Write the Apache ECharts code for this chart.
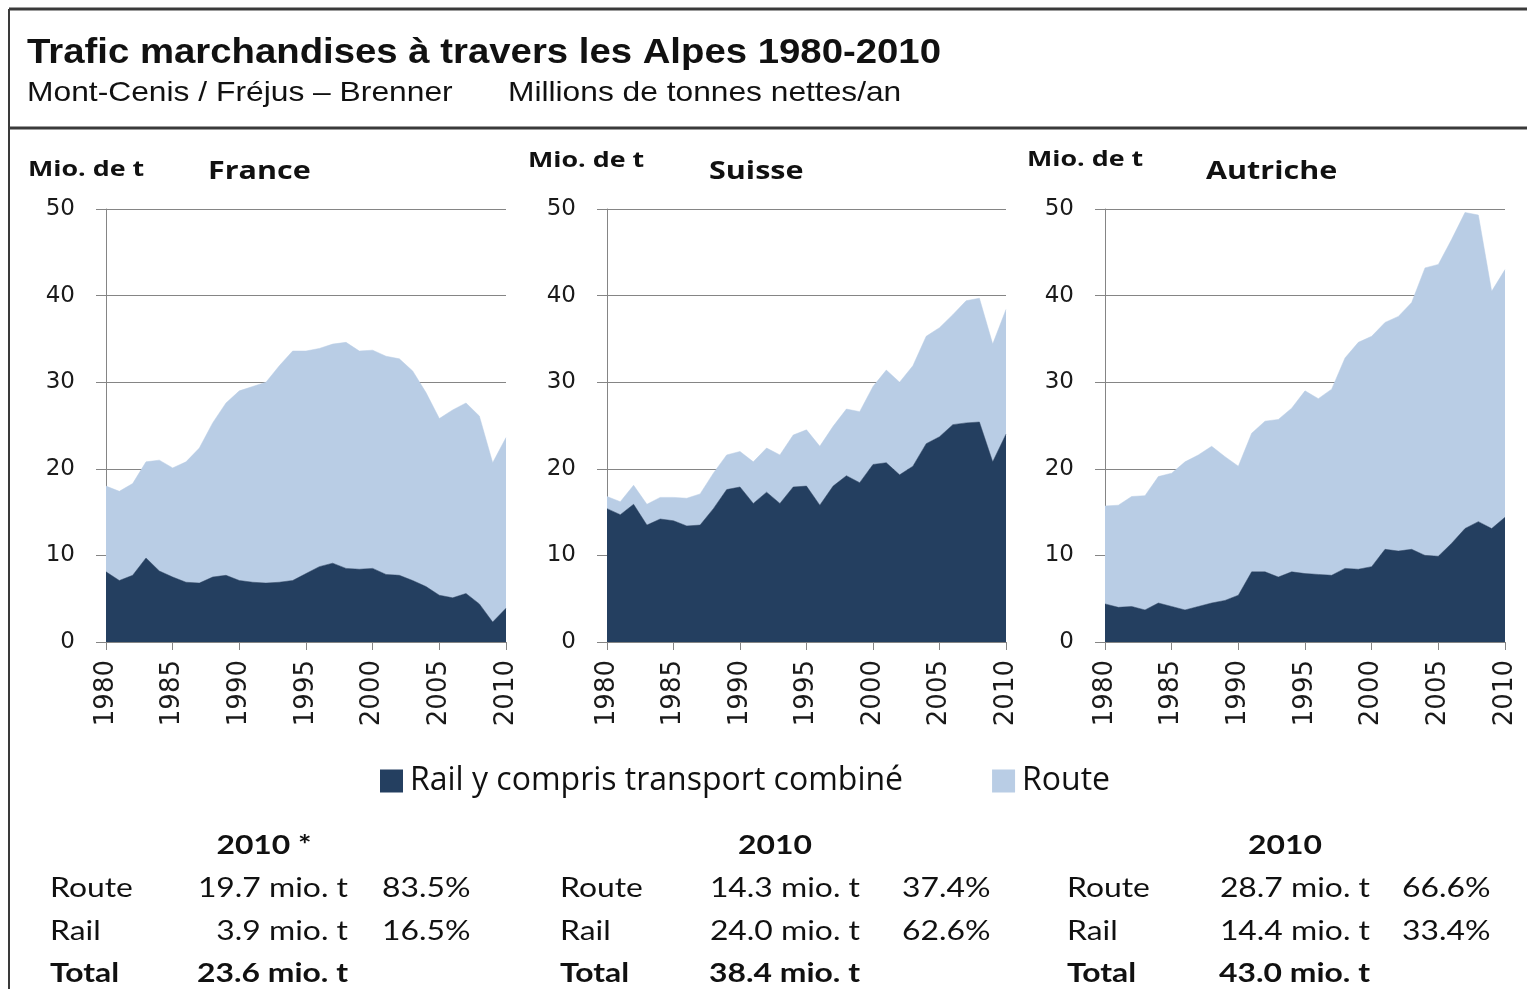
<!DOCTYPE html>
<html>
<head>
<meta charset="utf-8">
<script src="https://cdn.jsdelivr.net/npm/echarts@6/dist/echarts.min.js"></script>
<style>
html,body{margin:0;padding:0;background:#fff;}
#c{width:1527px;height:989px;}
</style>
</head>
<body>
<div id="c"></div>
<script>
// ---------- DATA ----------
const years = ['1980','1981','1982','1983','1984','1985','1986','1987','1988','1989','1990',
  '1991','1992','1993','1994','1995','1996','1997','1998','1999','2000',
  '2001','2002','2003','2004','2005','2006','2007','2008','2009','2010'];

const seriesNames = ['Rail y compris transport combiné', 'Route'];
const panelNames = ['France', 'Suisse', 'Autriche'];
const unitLabel = 'Mio. de t';

const franceRail = [8.1,7.1,7.7,9.7,8.2,7.5,6.9,6.8,7.5,7.7,7.1,6.9,6.8,6.9,7.1,7.9,8.7,9.1,8.5,8.4,8.5,7.8,7.7,7.1,6.4,5.4,5.1,5.6,4.4,2.3,3.9];
const franceRoute = [9.9,10.3,10.6,11.1,12.8,12.6,13.9,15.6,17.8,19.9,21.9,22.6,23.2,25.0,26.5,25.7,25.2,25.3,26.1,25.2,25.2,25.2,25.0,24.2,22.4,20.4,21.7,22.0,21.7,18.4,19.7];

const suisseRail = [15.4,14.7,15.9,13.5,14.2,14.0,13.4,13.5,15.4,17.6,17.9,16.0,17.3,16.0,17.9,18.0,15.8,18.0,19.2,18.4,20.5,20.7,19.3,20.3,22.9,23.7,25.1,25.3,25.4,20.8,24.0];
const suisseRoute = [1.4,1.5,2.2,2.4,2.5,2.7,3.2,3.6,4.1,4.0,4.1,4.8,5.1,5.6,6.0,6.5,6.8,6.9,7.7,8.2,9.0,10.7,10.7,11.6,12.4,12.6,12.7,14.1,14.3,13.6,14.4];

const autricheRail = [4.4,4.0,4.1,3.7,4.5,4.1,3.7,4.1,4.5,4.8,5.4,8.1,8.1,7.5,8.1,7.9,7.8,7.7,8.5,8.4,8.7,10.7,10.5,10.7,10.0,9.9,11.4,13.1,13.9,13.1,14.4];
const autricheRoute = [11.3,11.8,12.7,13.2,14.6,15.4,17.1,17.5,18.1,16.6,14.9,16.0,17.4,18.2,18.9,21.1,20.3,21.5,24.3,26.2,26.6,26.2,27.1,28.5,33.2,33.7,35.1,36.5,35.4,27.4,28.6];

const titleText = 'Trafic marchandises à travers les Alpes 1980-2010';
const subtitleLeft = 'Mont-Cenis / Fréjus – Brenner';
const subtitleRight = 'Millions de tonnes nettes/an';

const tableHeaders = ['2010 *', '2010', '2010'];
const tableRowLabels = ['Route', 'Rail', 'Total'];
const franceTable = ['19.7 mio. t', '3.9 mio. t', '23.6 mio. t'];
const franceShares = ['83.5%', '16.5%'];
const suisseTable = ['14.3 mio. t', '24.0 mio. t', '38.4 mio. t'];
const suisseShares = ['37.4%', '62.6%'];
const autricheTable = ['28.7 mio. t', '14.4 mio. t', '43.0 mio. t'];
const autricheShares = ['66.6%', '33.4%'];

// ---------- LAYOUT ----------
const DARK = '#243f60';
const LIGHT = '#b9cde5';
const GRID_COLOR = '#858585';
const TXT = '#1a1a1a';
const CAL = 'Lato, "Open Sans", sans-serif';
const OPEN = '"Open Sans", Lato, sans-serif';
const ARIAL = '"Liberation Sans", Arial, sans-serif';
const VERD = '"DejaVu Sans", Verdana, sans-serif';

const panels = [
  {rail: franceRail, route: franceRoute, left: 106, width: 400, unitX: 28, unitY: 170, nameX: 208,
   table: franceTable, shares: franceShares, header: tableHeaders[0], hx: 264, lx: 50, vx: 348, px: 382},
  {rail: suisseRail, route: suisseRoute, left: 607, width: 399, unitX: 528, unitY: 161, nameX: 709,
   table: suisseTable, shares: suisseShares, header: tableHeaders[1], hx: 775, lx: 560, vx: 860, px: 902},
  {rail: autricheRail, route: autricheRoute, left: 1105, width: 400, unitX: 1027, unitY: 160, nameX: 1206,
   table: autricheTable, shares: autricheShares, header: tableHeaders[2], hx: 1285, lx: 1067, vx: 1370, px: 1402}
];

function txt(text, x, y, font, sx, align) {
  return {type: 'text', x: x, y: y, scaleX: sx, scaleY: 1,
    style: {text: text, x: 0, y: 0, font: font, fill: '#111', align: align || 'left', verticalAlign: 'middle'}};
}

const grids = [], xAxes = [], yAxes = [], series = [];
const graphics = [
  {type: 'line', shape: {x1: 9, y1: 9, x2: 1527, y2: 9}, style: {stroke: '#3a3a3a', lineWidth: 3}},
  {type: 'line', shape: {x1: 9, y1: 128, x2: 1527, y2: 128}, style: {stroke: '#3a3a3a', lineWidth: 3}},
  {type: 'line', shape: {x1: 9, y1: 9, x2: 9, y2: 989}, style: {stroke: '#3a3a3a', lineWidth: 2}},
  txt(titleText, 27, 53, 'bold 35px ' + ARIAL, 1.095),
  txt(subtitleLeft, 27, 93, '28px ' + ARIAL, 1.135),
  txt(subtitleRight, 508, 93, '28px ' + ARIAL, 1.133)
];

panels.forEach((p, i) => {
  grids.push({left: p.left, top: 209, width: p.width, height: 433, containLabel: false});
  xAxes.push({
    type: 'category', gridIndex: i, data: years, boundaryGap: false,
    axisLine: {show: true, lineStyle: {color: GRID_COLOR, width: 1}},
    axisTick: {show: true, interval: 4, length: 8, lineStyle: {color: GRID_COLOR}},
    axisLabel: {interval: 4, rotate: 90, margin: 18, fontSize: 26, fontFamily: VERD, color: TXT},
    splitLine: {show: false}
  });
  yAxes.push({
    type: 'value', gridIndex: i, min: 0, max: 50, interval: 10,
    axisLine: {show: true, lineStyle: {color: GRID_COLOR, width: 1}},
    axisTick: {show: true, length: 10, lineStyle: {color: GRID_COLOR}},
    axisLabel: {margin: 31, fontSize: 23, fontFamily: VERD, color: TXT},
    splitLine: {show: true, lineStyle: {color: GRID_COLOR, width: 1}}
  });
  series.push({
    name: seriesNames[0], type: 'line', xAxisIndex: i, yAxisIndex: i, stack: 'p' + i,
    data: p.rail, symbol: 'none', lineStyle: {width: 0.5, color: DARK}, itemStyle: {color: DARK},
    areaStyle: {color: DARK, opacity: 1}, z: 3, silent: true
  });
  series.push({
    name: seriesNames[1], type: 'line', xAxisIndex: i, yAxisIndex: i, stack: 'p' + i,
    data: p.route, symbol: 'none', lineStyle: {width: 0.5, color: LIGHT}, itemStyle: {color: LIGHT},
    areaStyle: {color: LIGHT, opacity: 1}, z: 2, silent: true
  });

  graphics.push(txt(unitLabel, p.unitX, p.unitY, 'bold 22px ' + OPEN, 1.22));
  graphics.push(txt(panelNames[i], p.nameX, 172, 'bold 25px ' + OPEN, 1.22));

  // table
  graphics.push(txt(p.header, p.hx, 845, 'bold 27px ' + CAL, 1.18, 'center'));
  const rowsY = [888, 931, 973];
  tableRowLabels.forEach((lab, r) => {
    const bold = r === 2 ? 'bold ' : '';
    graphics.push(txt(lab, p.lx, rowsY[r], bold + '27px ' + CAL, 1.18));
    graphics.push(txt(p.table[r], p.vx, rowsY[r], bold + '27px ' + CAL, 1.18, 'right'));
    if (r < 2) {
      graphics.push(txt(p.shares[r], p.px, rowsY[r], '27px ' + CAL, 1.18));
    }
  });
});

const chart = echarts.init(document.getElementById('c'), null, {renderer: 'canvas'});
chart.setOption({
  backgroundColor: '#ffffff',
  animation: false,
  grid: grids,
  xAxis: xAxes,
  yAxis: yAxes,
  series: series,
  legend: {
    data: seriesNames, left: 375, top: 760, itemWidth: 23, itemHeight: 23, itemGap: 89,
    icon: 'rect', selectedMode: false,
    textStyle: {fontSize: 32, fontFamily: OPEN, color: '#111', padding: [0, 0, 0, 2]}
  },
  graphic: graphics
});
</script>
</body>
</html>
